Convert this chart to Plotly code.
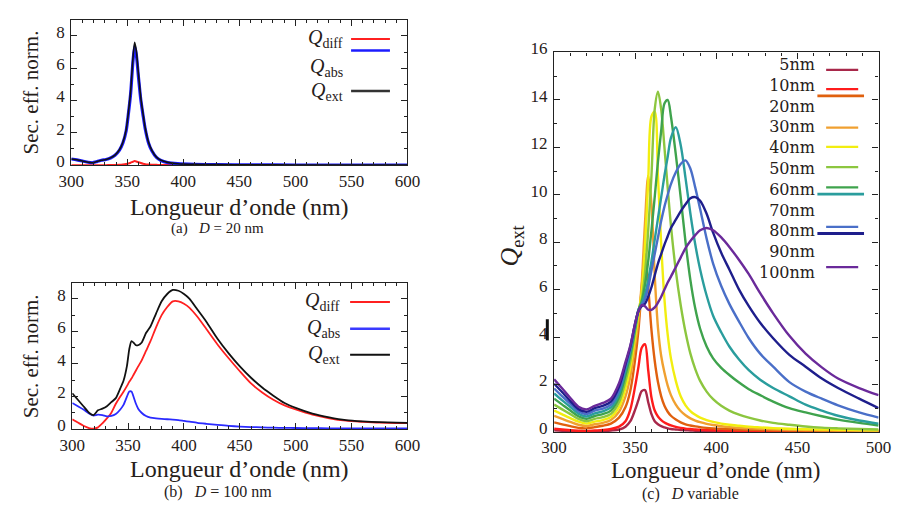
import plotly.graph_objects as go

W, H = 912, 513
FONT = "Liberation Serif"
TXT = "#262019"

# ---------------- Panel (a): D = 20 nm ----------------
wl_a = [300, 305, 310, 315, 319, 323, 327, 331, 335, 339, 343, 346, 349, 351, 353, 355, 356.5, 358,
        360, 362, 364, 366, 369, 372, 376, 380, 386, 395, 410, 430, 460, 500, 550, 600]
qext_a = [0.38, 0.33, 0.26, 0.18, 0.15, 0.22, 0.30, 0.35, 0.45, 0.62, 0.95, 1.4, 2.2, 3.3, 4.6, 6.6, 7.6, 7.1,
          5.6, 4.2, 3.2, 2.3, 1.4, 0.9, 0.5, 0.3, 0.17, 0.09, 0.05, 0.03, 0.02, 0.01, 0.01, 0.0]
qdiff_a = [0, 0, 0, 0, 0, 0, 0, 0, 0.01, 0.01, 0.02, 0.04, 0.07, 0.1, 0.15, 0.21, 0.25, 0.23,
           0.18, 0.13, 0.09, 0.06, 0.04, 0.03, 0.02, 0.01, 0.01, 0, 0, 0, 0, 0, 0, 0]
qabs_a = [0.38, 0.33, 0.26, 0.18, 0.15, 0.22, 0.30, 0.35, 0.44, 0.61, 0.93, 1.36, 2.13, 3.2, 4.45, 6.39, 7.35, 6.87,
          5.42, 4.07, 3.11, 2.24, 1.36, 0.87, 0.48, 0.29, 0.16, 0.09, 0.05, 0.03, 0.02, 0.01, 0.01, 0.0]

# ---------------- Panel (b): D = 100 nm ----------------
wl_b = [300, 305, 310, 315, 319, 323, 327, 331, 335, 339,
        343, 346, 349, 351, 353, 355, 357, 359, 362, 366,
        370, 375, 380, 385, 390, 395, 400, 405, 412, 420,
        430, 440, 450, 460, 470, 480, 490, 500, 515, 530,
        545, 560, 575, 590, 600]
qext_b = [2.2, 1.8, 1.4, 1.0, 0.85, 1.15, 1.25, 1.4, 1.65, 1.9,
          2.5, 3.0, 3.9, 4.9, 5.4, 5.3, 5.15, 5.15, 5.3, 5.9,
          6.3, 7.1, 7.85, 8.3, 8.55, 8.5, 8.3, 8.0, 7.35, 6.6,
          5.55, 4.65, 3.85, 3.15, 2.55, 2.05, 1.6, 1.3, 0.95, 0.72,
          0.55, 0.47, 0.42, 0.39, 0.38]
qdiff_b = [0.6, 0.4, 0.2, 0.06, 0.02, 0.1, 0.35, 0.65, 1.0, 1.55,
           2.0, 2.3, 2.65, 2.9, 3.1, 3.35, 3.6, 3.85, 4.2, 4.8,
           5.4, 6.25, 7.0, 7.5, 7.85, 7.85, 7.7, 7.45, 6.9, 6.15,
           5.2, 4.35, 3.55, 2.8, 2.25, 1.8, 1.45, 1.2, 0.88, 0.66,
           0.51, 0.44, 0.39, 0.37, 0.36]
qabs_b = [1.6, 1.4, 1.2, 0.95, 0.83, 0.88, 0.85, 0.78, 0.8, 0.92,
          1.2, 1.5, 2.0, 2.3, 2.3, 1.95, 1.55, 1.25, 1.0, 0.8,
          0.7, 0.65, 0.62, 0.6, 0.58, 0.55, 0.5, 0.45, 0.38, 0.32,
          0.25, 0.19, 0.15, 0.12, 0.1, 0.08, 0.07, 0.06, 0.05, 0.04,
          0.04, 0.03, 0.03, 0.03, 0.03]

# ---------------- Panel (c): D variable ----------------
wl_c = [300, 305, 310, 315, 320, 325, 330, 335, 340,
        344, 347, 350, 352, 354, 356, 358, 360, 362, 364, 366, 368, 370, 372,
        375, 378, 381, 384, 387, 390, 394, 398, 403, 408, 414, 420, 427, 435, 445, 455, 465, 475, 488, 500]
labels_c = ["5nm", "10nm", "20nm", "30nm", "40nm", "50nm", "60nm", "70nm", "80nm", "90nm", "100nm"]
q_5nm = [0.07, 0.05, 0.03, 0.02, 0.02, 0.03, 0.04, 0.06, 0.1,
         0.22, 0.45, 0.95, 1.35, 1.72, 1.76, 1.25, 0.75, 0.45, 0.32, 0.24, 0.19, 0.15, 0.12,
         0.1, 0.08, 0.07, 0.06, 0.05, 0.04, 0.04, 0.03, 0.03, 0.02, 0.02, 0.02, 0.02, 0.01, 0.01, 0.01, 0.01, 0.01, 0.01, 0.01]
q_10nm = [0.13, 0.1, 0.07, 0.05, 0.04, 0.06, 0.08, 0.12, 0.22,
          0.45, 0.95, 1.95, 2.75, 3.55, 3.7, 2.6, 1.45, 0.9, 0.65, 0.5, 0.4, 0.33, 0.27,
          0.21, 0.17, 0.14, 0.12, 0.1, 0.09, 0.08, 0.07, 0.06, 0.05, 0.05, 0.04, 0.04, 0.03, 0.03, 0.03, 0.02, 0.02, 0.02, 0.02]
q_20nm = [0.4, 0.32, 0.24, 0.17, 0.15, 0.2, 0.26, 0.35, 0.6,
          1.05, 1.75, 3.1, 4.3, 6.1, 7.5, 6.1, 4.3, 3.0, 2.1, 1.5, 1.1, 0.85, 0.68,
          0.52, 0.4, 0.32, 0.27, 0.23, 0.2, 0.17, 0.15, 0.13, 0.12, 0.1, 0.09, 0.08, 0.07, 0.06, 0.055, 0.05, 0.045, 0.04, 0.04]
q_30nm = [0.68, 0.55, 0.42, 0.3, 0.25, 0.32, 0.38, 0.5, 0.85,
          1.5, 2.35, 3.7, 4.7, 6.3, 8.8, 10.8, 9.6, 6.6, 4.4, 3.2, 2.5, 1.95, 1.55,
          1.15, 0.88, 0.7, 0.57, 0.48, 0.41, 0.34, 0.29, 0.24, 0.2, 0.17, 0.15, 0.13, 0.11, 0.09, 0.08, 0.07, 0.06, 0.05, 0.05]
q_40nm = [0.9, 0.74, 0.58, 0.43, 0.35, 0.43, 0.5, 0.63, 1.05,
          1.85, 2.75, 4.05, 5.0, 5.9, 7.8, 10.6, 13.3, 13.5, 10.8, 7.9, 5.6, 4.1, 3.1,
          2.15, 1.5, 1.12, 0.88, 0.72, 0.6, 0.5, 0.42, 0.35, 0.3, 0.26, 0.22, 0.19, 0.16, 0.13, 0.11, 0.1, 0.09, 0.08, 0.07]
q_50nm = [1.15, 0.95, 0.75, 0.55, 0.45, 0.55, 0.62, 0.76, 1.25,
          2.15, 3.0, 4.25, 5.1, 5.6, 6.7, 8.5, 10.8, 13.6, 14.35, 13.6, 12.0, 10.3, 8.7,
          6.8, 5.35, 4.2, 3.3, 2.65, 2.15, 1.7, 1.38, 1.1, 0.9, 0.73, 0.6, 0.48, 0.38, 0.3, 0.23, 0.18, 0.15, 0.12, 0.1]
q_60nm = [1.4, 1.15, 0.9, 0.66, 0.55, 0.67, 0.75, 0.9, 1.45,
          2.4, 3.25, 4.4, 5.15, 5.5, 6.2, 7.2, 8.5, 9.9, 11.4, 12.7, 13.85, 14.0, 13.3,
          11.7, 9.9, 8.0, 6.4, 5.2, 4.35, 3.6, 3.1, 2.7, 2.4, 2.08, 1.8, 1.55, 1.28, 1.0, 0.82, 0.66, 0.52, 0.38, 0.27]
q_70nm = [1.62, 1.33, 1.05, 0.77, 0.65, 0.78, 0.87, 1.03, 1.6,
          2.6, 3.4, 4.5, 5.15, 5.4, 5.8, 6.4, 7.2, 8.1, 9.0, 9.9, 10.8, 11.6, 12.4,
          12.85, 12.1, 10.7, 9.2, 7.9, 6.85, 5.75, 4.9, 4.2, 3.6, 3.05, 2.6, 2.2, 1.85, 1.5, 1.15, 0.9, 0.68, 0.48, 0.35]
q_80nm = [1.83, 1.5, 1.18, 0.87, 0.75, 0.9, 0.98, 1.15, 1.75,
          2.75, 3.5, 4.55, 5.1, 5.35, 5.6, 6.1, 6.8, 7.5, 8.2, 8.9, 9.5, 10.0, 10.45,
          10.95, 11.3, 11.45, 11.1, 10.3, 9.4, 8.15, 7.1, 6.15, 5.4, 4.65, 3.95, 3.3, 2.75, 2.1, 1.7, 1.4, 1.12, 0.82, 0.6]
q_90nm = [2.03, 1.67, 1.3, 0.96, 0.85, 1.0, 1.1, 1.28, 1.9,
          2.85, 3.6, 4.6, 5.1, 5.3, 5.4, 5.7, 6.1, 6.6, 7.1, 7.5, 7.9, 8.25, 8.6,
          8.95, 9.3, 9.6, 9.85, 9.9, 9.75, 9.2, 8.4, 7.55, 6.85, 6.0, 5.3, 4.6, 3.95, 3.25, 2.75, 2.25, 1.85, 1.4, 1.0]
q_100nm = [2.22, 1.83, 1.43, 1.06, 0.95, 1.1, 1.22, 1.4, 2.05,
           2.95, 3.65, 4.6, 5.1, 5.35, 5.3, 5.15, 5.15, 5.25, 5.45, 5.7, 6.0, 6.3, 6.55,
           6.95, 7.35, 7.75, 8.05, 8.3, 8.5, 8.6, 8.5, 8.2, 7.8, 7.25, 6.65, 5.85, 5.0, 4.05, 3.3, 2.72, 2.25, 1.85, 1.55]
series_c = [q_5nm, q_10nm, q_20nm, q_30nm, q_40nm, q_50nm, q_60nm, q_70nm, q_80nm, q_90nm, q_100nm]
colors_c = ["#a8284a", "#ff1c1c", "#e0600e", "#f0a030", "#f2ee10", "#8cc63f",
            "#3fa34d", "#2a9d9d", "#4a6fc8", "#1e1e8c", "#6a2a9a"]


def px(x):
    return x / W


def py(y):
    return 1 - y / H


fig = go.Figure()

# panel (a)
for y, col, w in [(qdiff_a, "#ff2020", 2), (qabs_a, "#1c1cff", 3.2), (qext_a, "#111111", 1.6)]:
    fig.add_trace(go.Scatter(x=wl_a, y=y, mode="lines", line=dict(color=col, width=w, shape="spline", smoothing=0.6),
                             xaxis="x", yaxis="y", showlegend=False, hoverinfo="skip"))
# panel (b)
for y, col, w in [(qdiff_b, "#ff2020", 1.8), (qabs_b, "#2a2aff", 1.8), (qext_b, "#111111", 1.8)]:
    fig.add_trace(go.Scatter(x=wl_b, y=y, mode="lines", line=dict(color=col, width=w, shape="spline", smoothing=0.6),
                             xaxis="x2", yaxis="y2", showlegend=False, hoverinfo="skip"))
# panel (c)
for lab, y, col in zip(labels_c, series_c, colors_c):
    fig.add_trace(go.Scatter(x=wl_c, y=y, mode="lines", name=lab,
                             line=dict(color=col, width=2.4, shape="spline", smoothing=0.9),
                             xaxis="x3", yaxis="y3", showlegend=False, hoverinfo="skip"))

axis_common = dict(showline=True, linecolor="#222222", linewidth=1.2, mirror="ticks", ticks="inside",
                   ticklen=6, tickcolor="#222222", showgrid=False, zeroline=False,
                   tickfont=dict(family=FONT, size=17, color=TXT))
xmin = dict(minor=dict(dtick=10, ticks="inside", ticklen=3, tickcolor="#222222"))
ymin = dict(minor=dict(dtick=1, ticks="inside", ticklen=3, tickcolor="#222222"), ticklabelshift=-4,
            ticklabelstandoff=2)

fig.update_layout(
    width=W, height=H, margin=dict(l=0, r=0, t=0, b=0),
    paper_bgcolor="white", plot_bgcolor="white",
    font=dict(family=FONT, color=TXT, size=16),
    xaxis=dict(domain=[px(60), px(406)], anchor="y", range=[300, 600], dtick=50, **xmin, **axis_common),
    yaxis=dict(domain=[py(158), py(7)], anchor="x", range=[0, 9], dtick=2, **ymin, **axis_common),
    xaxis2=dict(domain=[px(61), px(406)], anchor="y2", range=[300, 600], dtick=50, **xmin, **axis_common),
    yaxis2=dict(domain=[py(432), py(280)], anchor="x2", range=[0, 9], dtick=2, **ymin, **axis_common),
    xaxis3=dict(domain=[px(557), px(891)], anchor="y3", range=[300, 500], dtick=50, **xmin, **axis_common),
    yaxis3=dict(domain=[py(435), py(41)], anchor="x3", range=[0, 16], dtick=2, **ymin, **axis_common),
)

ann = []
shapes = []


def text(x, y, s, size, xanchor="center", angle=0, family=FONT, yanchor="middle"):
    ann.append(dict(x=px(x), y=py(y), xref="paper", yref="paper", text=s, showarrow=False,
                    xanchor=xanchor, yanchor=yanchor, textangle=angle, align="right",
                    font=dict(family=family, size=size, color=TXT)))


def seg(x0, x1, y, col, w):
    shapes.append(dict(type="line", xref="paper", yref="paper", x0=px(x0), x1=px(x1), y0=py(y), y1=py(y),
                       line=dict(color=col, width=w)))


# axis titles and captions
text(233, 201, "Longueur d\u2019onde (nm)", 24)
text(211, 224, "(a)&nbsp;&nbsp;&nbsp;<i>D</i> = 20 nm", 15)
text(18, 82, "Sec. eff. norm.", 21, angle=-90)
text(233, 474, "Longueur d\u2019onde (nm)", 24)
text(211, 497, "(b)&nbsp;&nbsp;&nbsp;<i>D</i> = 100 nm", 16)
text(18, 356, "Sec. eff. norm.", 21, angle=-90)
text(724, 475, "Longueur d\u2019onde (nm)", 23)
text(697, 500, "(c)&nbsp;&nbsp;&nbsp;<i>D</i> variable", 16)
text(513, 242, "<i>Q</i><sub>ext</sub>", 26, angle=-90)

# legend (a)
text(342, 27, "<i>Q</i><sub>diff</sub>", 20, xanchor="right")
text(342, 57, "<i>Q</i><sub>abs</sub>", 20, xanchor="right")
text(342, 82, "<i>Q</i><sub>ext</sub>", 20, xanchor="right")
seg(348, 388, 27, "#ff2020", 2)
seg(348, 388, 39, "#1c1cff", 2.5)
seg(348, 388, 81, "#333333", 2.5)

# legend (b)
text(339, 300, "<i>Q</i><sub>diff</sub>", 20, xanchor="right")
text(339, 328, "<i>Q</i><sub>abs</sub>", 20, xanchor="right")
text(339, 355, "<i>Q</i><sub>ext</sub>", 20, xanchor="right")
seg(347, 388, 300, "#ff2020", 2)
seg(347, 388, 328, "#3a3aff", 2.5)
seg(347, 388, 355, "#111111", 2)

# legend (c): one right-aligned multi-line text block plus sample lines
text(828, 42, "<br>".join(labels_c), 16, xanchor="right", family="DejaVu Serif", yanchor="top")
line_pos = [(837, 870, 59), (837, 870, 79), (828, 876, 86), (837, 870, 119), (837, 870, 139),
            (837, 870, 160), (837, 870, 181), (828, 876, 188), (837, 870, 222), (828, 876, 229),
            (837, 870, 264)]
for (x0, x1, yl), col in zip(line_pos, colors_c):
    seg(x0, x1, yl, col, 2.8 if x1 - x0 > 40 else 2.2)

# stray mark next to the "4" tick label
shapes.append(dict(type="line", xref="paper", yref="paper", x0=px(550), x1=px(550), y0=py(318), y1=py(340),
                   line=dict(color="#111111", width=3)))

fig.update_layout(annotations=ann, shapes=shapes)
fig.write_html("out.html")
